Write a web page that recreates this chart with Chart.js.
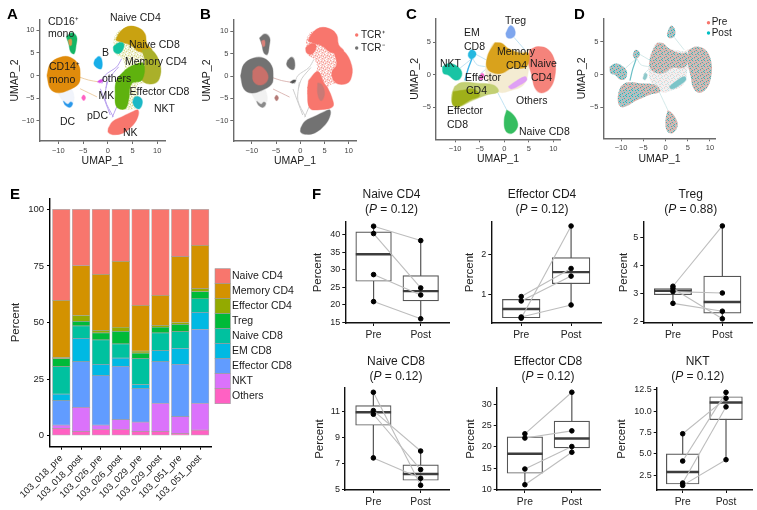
<!DOCTYPE html>
<html>
<head>
<meta charset="utf-8">
<title>UMAP and cell fraction panels</title>
<script src="https://cdn.jsdelivr.net/npm/chart.js@4/dist/chart.umd.js"></script>
<style>
  html, body { margin: 0; padding: 0; background: #fff; }
  #page { position: relative; width: 757px; height: 510px; overflow: hidden; }
  canvas { position: absolute; }
</style>
</head>
<body>
<div id="page"></div>
<script>
// ---- stacked bars (panel E) ----
const samples = ["103_018_pre", "103_018_post", "103_026_pre", "103_026_post", "103_029_pre", "103_029_post", "103_051_pre", "103_051_post"];
const others = [3.2, 1.9, 2.8, 2.8, 1.9, 1.9, 1.0, 2.4];
const nkt = [1.4, 10.6, 1.8, 4.3, 4.1, 12.4, 7.4, 11.9];
const effectorCd8 = [10.9, 20.2, 21.9, 23.5, 14.8, 18.4, 23.1, 32.7];
const emCd8 = [2.8, 10.3, 5.0, 3.6, 1.7, 4.9, 7.1, 7.5];
const naiveCd8 = [12.2, 5.5, 10.8, 6.4, 11.5, 7.8, 7.4, 6.0];
const treg = [3.5, 2.0, 3.1, 5.5, 2.5, 2.5, 3.2, 3.1];
const effectorCd4 = [0.6, 2.7, 1.1, 1.8, 0.8, 0.8, 0.8, 1.4];
const memoryCd4 = [25.2, 21.9, 24.8, 29.1, 20.3, 13.3, 29.1, 19.1];
const naiveCd4 = [40.2, 24.9, 28.7, 23.0, 42.4, 38.0, 20.9, 15.9];
const percentTicks = [0, 25, 50, 75, 100];

// ---- paired box panels (F): pre / post in patient order, box = low, q1, median, q3, high ----
const naiveCd4Pre = [42.4, 40.3, 28.6, 20.9];
const naiveCd4Post = [38.3, 24.8, 22.8, 16.0];
const naiveCd4Box = [[20.9, 26.7, 34.4, 40.8, 42.4], [16.0, 21.1, 23.9, 28.3, 38.3]];
const effCd4Pre = [0.40, 0.43, 0.83, 0.94];
const effCd4Post = [2.70, 0.73, 1.45, 1.64];
const effCd4Box = [[0.40, 0.41, 0.63, 0.87, 0.94], [0.73, 1.26, 1.55, 1.91, 2.70]];
const tregPre = [3.26, 3.07, 3.18, 2.65];
const tregPost = [5.41, 3.02, 2.10, 2.37];
const tregBox = [[2.65, 2.96, 3.10, 3.18, 3.26], [2.10, 2.30, 2.70, 3.62, 5.41]];
const naiveCd8Pre = [12.49, 11.08, 10.80, 7.44];
const naiveCd8Post = [5.33, 7.97, 6.54, 5.87];
const naiveCd8Box = [[7.44, 9.95, 10.95, 11.46, 12.49], [5.33, 5.72, 6.20, 6.90, 7.97]];
const effCd8Pre = [23.1, 22.1, 14.8, 11.1];
const effCd8Post = [32.9, 23.8, 20.1, 18.75];
const effCd8Box = [[11.1, 13.8, 18.4, 22.4, 23.1], [18.75, 19.8, 22.0, 26.1, 32.9]];
const nktPre = [7.36, 4.17, 1.60, 1.33];
const nktPost = [11.49, 12.19, 10.50, 4.33];
const nktBox = [[1.33, 1.49, 2.89, 5.00, 7.36], [4.33, 9.00, 11.00, 11.68, 12.19]];

const tHull = [[4, 10.8], [6.8, 9.5], [7.5, 6.5], [9.5, 3.6], [10.4, 0.6], [9.9, -0.9], [7.5, -1.6], [5.8, -2.4], [6.5, -5.3], [6.7, -6.8], [4, -7.5], [2, -7.2], [1.6, -4.6], [1.6, -1.6], [3.4, 1.3], [3, 3.6], [1.6, 4.7], [1.2, 6.5], [1.6, 9.1]];
const topLobe = [[1.6, 7.8], [2.5, 9.6], [4.2, 10.8], [6.2, 10.5], [7.5, 9.2], [7.9, 7.0], [8.9, 5.6], [6.5, 5.2], [4.5, 6.7], [2.5, 7.4]];
const rightLobe = [[6.9, 5.6], [8.9, 5.6], [10.6, 2.3], [10.4, -0.7], [9.2, -1.8], [7.2, -1.4], [6.5, 0.8], [7.5, 2.6]];
const midBody = [[3.5, 1.2], [5.2, 2.3], [7.2, 2.6], [6.9, -1], [4.8, -1.8], [4.2, -5.4], [3.5, -7.3], [1.8, -6.9], [1.5, -4], [1.8, -1]];
const lowerBody = [[1.7, -1], [3.6, 1], [5, -1.8], [5.6, -2.6], [6.5, -4.8], [6.7, -6.8], [4, -7.5], [2, -7.2], [1.5, -4]];
const lowerPatch = [[5, -5.8], [5.5, -4.7], [6.5, -4.8], [7, -5.8], [6.4, -7.3], [5.5, -6.9]];
const cd8Patch = [[1.1, 6.3], [2.2, 7.2], [3.2, 7], [3, 5.6], [2.2, 4.8], [1.3, 5.2]];
const nkBlob = [[0.1, -11.6], [1, -10.1], [3, -9], [5.1, -7.9], [6.1, -7.6], [6.1, -9], [5.1, -10.9], [3, -12.7], [1, -13], [0.1, -12.5]];
const cd14Blob = [[-12.3, 0], [-11.6, 2.6], [-9.6, 4], [-7.6, 4], [-5.9, 2.3], [-5.6, 0], [-5.9, -1.8], [-7.9, -3.2], [-10, -3.8], [-11.6, -2.9]];
const cd14Core = [[-9.8, 1.2], [-8.5, 2.2], [-7, 1], [-6.7, -0.8], [-8, -2], [-9.6, -1.2]];
const dcTail = [[-10, -4], [-9, -5.8], [-8, -6.9], [-7.1, -6.2], [-6.8, -4.7], [-7.5, -3]];
const dcRim = [[-9, -5.6], [-8.1, -6.3], [-7.5, -5.8], [-7.1, -6.2], [-7.7, -7], [-8.6, -6.5]];
const cd16Blob = [[-8.4, 8.5], [-7.3, 9.4], [-6.3, 8.5], [-6.4, 6.7], [-6.8, 4.8], [-7.5, 5.2], [-7.9, 7]];
const cd16Core = [[-8, 7.8], [-7.4, 8], [-7.3, 6.8], [-7.7, 6.6]];
const bBlob = [[-2.6, 3.5], [-1.8, 4.2], [-1.2, 3.4], [-1.3, 1.5], [-2.2, 1.7], [-2.8, 2.5]];
const othersSpot = [[-2.1, -1.4], [-1.4, -0.9], [-0.9, -1], [-1.5, -1.6]];
const mkSpot = [[-5.3, -4.9], [-4.9, -4.3], [-4.5, -4.9], [-4.9, -5.5]];
const gutSpot = [[3.6, -1.5], [4.5, -2], [5, -4], [4.3, -5.5], [3.6, -4]];
const trailsAB = [
  [[2.8, 3.7], [1.8, 1.9], [-0.5, 0.1], [-1.2, -1.8]],
  [[-0.2, -1.4], [-0.5, -5.4], [1.1, -9.1]],
  [[-1.5, -2.9], [0.5, -8.7]],
  [[1.8, -6.9], [0.9, -9.2]],
  [[2.2, 1.9], [0.3, -0.6], [-0.4, -2.8]]
];
const trailsMyeloid = [
  [[-5.6, -0.4], [-3.9, -1], [-1.9, -1.4]],
  [[-5.6, -2.9], [-2.2, -4.7]]
];

const cNaiveCd4 = [[5.2, 3.8], [6.9, 4.3], [9, 3.8], [10.3, 2], [10.3, -0.3], [9.3, -2.1], [7.6, -2.8], [6.3, -2.1], [5.6, -0.05], [4.9, 2]];
const cMemory = [[-1.9, 4.9], [-0.5, 4.8], [0.8, 4], [3.2, 3.3], [4.9, 3.3], [4.9, 1.7], [3.9, 1], [1.5, 1], [-0.2, 0.3], [-1.9, 0.2], [-3.5, 1], [-3.3, 3]];
const cPale = [[-3.5, 3], [-1.9, 4.9], [0.8, 4], [4, 3.6], [5.2, 3.8], [5, 1], [4, -1.5], [1, -2.5], [-1, -2.7], [-3, -1.5], [-3.8, 0.5]];
const cTreg = [[0.3, 6.3], [1.2, 7.5], [2, 7.1], [2.2, 6.1], [1.5, 5.6], [0.6, 5.7]];
const cEmCd8 = [[-7.3, 3.3], [-6.7, 3.8], [-5.8, 3.4], [-5.9, 2.8], [-6.7, 2.4], [-7.3, 2.8]];
const cNkt = [[-12.6, 1.2], [-11.4, 1.7], [-10.1, 1.5], [-8.7, 0.5], [-9, -0.6], [-10.1, -0.8], [-11.4, -0.05], [-12.4, 0.2]];
const cEffector = [[-10.1, -1.8], [-8.7, -1.2], [-5.6, -1.3], [-2.2, -1.6], [-1.2, -2.6], [-3.6, -3.1], [-6.3, -3.9], [-9.4, -5], [-10.5, -4.6], [-10.7, -3.1]];
const cEffectorDense = [[-10.4, -2.6], [-8.5, -2.4], [-6.3, -2.2], [-5, -3.2], [-7, -3.9], [-9.4, -4.9], [-10.5, -4.5]];
const cNaiveCd8 = [[0.5, -5.4], [1.5, -5.9], [2.5, -6.9], [2.7, -8], [1.5, -9], [0.3, -8.6], [0, -6.9]];
const cOthers = [[0.8, -1.9], [2.2, -1.1], [4.2, -0.3], [4.6, -0.8], [3.2, -1.6], [1.5, -2.2]];
const cPink = [[-5.1, -0.6], [-4.6, 0.2], [-4.1, -0.05], [-4.6, -0.8]];
const trailsCD = [
  [[-6, 3.2], [-3.5, 2.2]],
  [[-6.5, 2.5], [-9, 1]],
  [[-6.4, 2.4], [-5.5, 1.5], [-3.6, 1.2]],
  [[-1.5, -2.5], [0.5, -5.4]],
  [[2, 5.7], [4.2, 3.8]],
  [[-5, 0], [-3.5, 1]]
];
const cBlueStreak = [[-6.6, 2.4], [-7.4, 0.8], [-8, -0.9]];

const umapTickValues = [-10, -5, 0, 5, 10];
const umapTickLabels = ["\u221210", "\u22125", "0", "5", "10"];
const umapCdTickValues = [-5, 0, 5];
const umapCdTickLabels = ["\u22125", "0", "5"];

const HUE = { naiveCd4: "#F8766D", memoryCd4: "#D39200", effectorCd4: "#93AA00", treg: "#00BA38", naiveCd8: "#00C19F", emCd8: "#00B9E3", effectorCd8: "#619CFF", nkt: "#DB72FB", others: "#FF61C3" };
const FONT = "'Liberation Sans', Arial, sans-serif";
Chart.defaults.font.family = FONT;
Chart.defaults.color = "#222";

// small tile of dots so a filled outline reads like a cloud of cells
function speckle(bg, a, b) {
  const c = document.createElement("canvas");
  c.width = 6; c.height = 6;
  const x = c.getContext("2d");
  x.fillStyle = bg; x.fillRect(0, 0, 6, 6);
  x.fillStyle = a;
  [[0, 0], [3, 1], [1, 3], [4, 4], [5, 2]].forEach(p => x.fillRect(p[0], p[1], 1, 1));
  x.fillStyle = b;
  [[2, 0], [5, 0], [0, 2], [2, 4], [4, 3], [1, 5]].forEach(p => x.fillRect(p[0], p[1], 1, 1));
  return x.createPattern(c, "repeat");
}

// solid blobs get a faint halo line so the edge looks fuzzy like the dots
const blob = (pts, color) => ({ type: "scatter", showLine: true, data: pts.concat([pts[0]]), tension: 0.4, blobFill: color, borderColor: typeof color === "string" ? color + "66" : "rgba(0,0,0,0)", borderWidth: typeof color === "string" ? 1.2 : 0, pointRadius: 0, clip: false });
const trail = (pts, color, w) => ({ type: "scatter", showLine: true, data: pts, tension: 0.3, fill: false, borderColor: color, borderWidth: w || 0.8, pointRadius: 0, clip: false });

// fills a closed outline along the line element the library already laid out
const blobFiller = {
  id: "blobFiller",
  beforeDatasetDraw(chart, args) {
    const color = chart.data.datasets[args.index].blobFill;
    if (!color) return;
    const ctx = chart.ctx;
    ctx.save();
    ctx.fillStyle = color;
    ctx.beginPath();
    args.meta.dataset.path(ctx);
    ctx.closePath();
    ctx.fill();
    ctx.restore();
  }
};

// text layer: positions are page pixels, parts may be italic
const notes = {
  id: "notes",
  afterDraw(chart, args, opts) {
    const ctx = chart.ctx, dx = chart.canvas.offsetLeft, dy = chart.canvas.offsetTop;
    ctx.save();
    ctx.textBaseline = "middle";
    (opts.squares || []).forEach(s => {
      ctx.fillStyle = s.color;
      ctx.fillRect(s.x - dx, s.y - dy, s.w, s.h);
      ctx.strokeStyle = "#9a9a9a"; ctx.lineWidth = 0.6;
      ctx.strokeRect(s.x - dx, s.y - dy, s.w, s.h);
    });
    (opts.dots || []).forEach(d => {
      ctx.fillStyle = d.color;
      ctx.beginPath(); ctx.arc(d.x - dx, d.y - dy, 1.7, 0, Math.PI * 2); ctx.fill();
    });
    (opts.items || []).forEach(n => {
      const parts = Array.isArray(n.t) ? n.t : [{ s: n.t }];
      const weight = n.bold ? "bold " : "";
      const font = p => (p.i ? "italic " : "") + weight + (n.size || 10.5) + "px " + FONT;
      let w = 0;
      parts.forEach(p => { ctx.font = font(p); w += ctx.measureText(p.s).width; });
      let x = n.x - dx - (n.center ? w / 2 : 0);
      ctx.fillStyle = n.color || "#1a1a1a";
      ctx.textAlign = "left";
      parts.forEach(p => {
        ctx.font = font(p);
        ctx.fillText(p.s, x, n.y - dy);
        x += ctx.measureText(p.s).width;
      });
    });
    ctx.restore();
  }
};
const soften = {
  id: "soften",
  beforeDatasetsDraw(chart, args, opts) { if (opts.blur) chart.ctx.filter = "blur(" + opts.blur + "px)"; },
  afterDatasetsDraw(chart, args, opts) { if (opts.blur) chart.ctx.filter = "none"; }
};

function axis(o) {
  return {
    type: "linear", min: o.min, max: o.max, stacked: !!o.stacked, offset: false,
    afterBuildTicks: s => { s.ticks = o.values.map(v => ({ value: v })); },
    afterFit: s => { if (o.fit) o.fit(s); },
    grid: { offset: false, drawOnChartArea: false, drawTicks: true, tickLength: 3, color: o.color, lineWidth: 1 },
    border: { color: o.color, width: o.width || 1.4 },
    title: o.title ? { display: true, text: o.title, font: { size: o.titleSize || 10.5 }, color: "#222", padding: o.titlePad || 0 } : { display: false },
    ticks: { autoSkip: false, font: { size: o.size }, color: o.tickColor || "#222", padding: o.padding === undefined ? 2 : o.padding, maxRotation: o.rot || 0, minRotation: o.rot || 0, callback: (v, i) => o.labels[i] }
  };
}

// every panel gets its own canvas; plot is the axis box in page pixels
function panel(p) {
  const c = document.createElement("canvas");
  const box = { left: Math.floor(p.left), top: p.top, right: p.right, bottom: p.bottom };
  c.width = box.right - box.left; c.height = box.bottom - box.top;
  c.style.left = box.left + "px"; c.style.top = box.top + "px";
  document.getElementById("page").appendChild(c);
  p.x.fit = s => { s.height = box.bottom - p.plot.b; };
  p.y.fit = s => { s.width = p.plot.l - box.left; };
  if (p.yTitleAt) p.y.titlePad = p.yTitleAt - box.left - (p.y.titleSize || 10.5) * 0.6;
  return new Chart(c, {
    type: p.type || "scatter",
    data: { datasets: p.datasets },
    plugins: [blobFiller, notes, soften],
    options: {
      responsive: false, animation: false, events: [],
      layout: { autoPadding: false, padding: { top: p.plot.t - box.top, right: box.right - p.plot.r, left: 0, bottom: 0 } },
      scales: { x: axis(p.x), y: axis(p.y) },
      plugins: { legend: { display: false }, tooltip: { enabled: false }, notes: { items: p.items || [], squares: p.squares || [], dots: p.dots || [] }, soften: { blur: p.blur || 0 } }
    }
  });
}

function umap(p) {
  p.x = Object.assign({ values: umapTickValues, labels: umapTickLabels, size: 7.5, color: "#6b6b6b", tickColor: "#444", title: "UMAP_1" }, p.x);
  p.y = Object.assign({ size: 7.5, color: "#6b6b6b", tickColor: "#444", title: "UMAP_2" }, p.y);
  p.blur = 0.5;
  p.datasets = p.layers.reverse();
  panel(p);
}

// ---- panel A ----
const paleA = speckle("#eef0cf", "#d8d48a", "#ffffff");
umap({
  left: 5, top: 0, right: 200, bottom: 167, yTitleAt: 15,
  plot: { l: 39.5, t: 20, r: 165.7, b: 141 },
  x: { min: -13.8, max: 11.7 },
  y: { min: -14.4, max: 12.2, values: umapTickValues, labels: umapTickLabels },
  layers: [
    ...trailsAB.map(t => trail(t, "#b9a2ee", 1)),
    ...trailsMyeloid.map(t => trail(t, "#e7c28e", 0.8)),
    blob(tHull, paleA),
    blob(topLobe, "#c9a211"),
    blob(rightLobe, "#aab02a"),
    blob(midBody, "#5fb20e"),
    blob(lowerPatch, "#1cb8c6"),
    blob(cd8Patch, "#12c2a0"),
    blob(nkBlob, HUE.naiveCd4),
    blob(dcTail, "#f1f4fb"),
    blob(dcRim, "#2a98ea"),
    blob(cd14Blob, "#E08B0B"),
    blob(cd16Blob, "#14b565"),
    blob(cd16Core, "#d89a4a"),
    blob(bBlob, "#18aee8"),
    blob(othersSpot, "#d84be8"),
    blob(mkSpot, "#ff61c3")
  ],
  items: [
    { t: "A", x: 7, y: 15, size: 15, bold: true, color: "#000" },
    { t: "CD16\u207A", x: 48, y: 22 }, { t: "mono", x: 48, y: 34.5 },
    { t: "Naive CD4", x: 110, y: 18 }, { t: "Naive CD8", x: 129, y: 45 },
    { t: "B", x: 102, y: 53 }, { t: "Memory CD4", x: 125, y: 62 },
    { t: "CD14\u207A", x: 49, y: 67.5 }, { t: "mono", x: 49, y: 80 },
    { t: "others", x: 102, y: 79 }, { t: "MK", x: 98.5, y: 96 },
    { t: "Effector CD8", x: 129.5, y: 92.5 }, { t: "NKT", x: 154, y: 109 },
    { t: "pDC", x: 87, y: 116.5 }, { t: "DC", x: 60, y: 122 }, { t: "NK", x: 123, y: 133.5 }
  ]
});

// ---- panel B ----
const RED = "#F8766D", GREY = "#727272";
const paleB = speckle("#fbd3cf", "#f59e98", "#ffffff");
umap({
  left: 198, top: 0, right: 392, bottom: 167, yTitleAt: 206.7,
  plot: { l: 233.3, t: 20, r: 356.7, b: 141 },
  x: { min: -13.8, max: 11.63 },
  y: { min: -14.5, max: 12.5, values: umapTickValues, labels: umapTickLabels },
  layers: [
    ...trailsAB.map(t => trail(t, "#cfcfcf", 1)),
    ...trailsMyeloid.map(t => trail(t, "#d3a7a3", 0.8)),
    blob(tHull, paleB),
    blob(topLobe, RED),
    blob(cd8Patch, RED),
    blob(rightLobe, RED),
    blob(lowerBody, RED),
    blob(gutSpot, "#c97a76"),
    blob(nkBlob, GREY),
    blob(dcTail, "#f1f1f1"),
    blob(dcRim, "#8a8a8a"),
    blob(cd14Blob, GREY),
    blob(cd14Core, "#c9706a"),
    blob(cd16Blob, GREY),
    blob(cd16Core, "#d9817a"),
    blob(bBlob, GREY),
    blob(othersSpot, "#555555"),
    blob(mkSpot, "#b47a76")
  ],
  dots: [{ x: 356.7, y: 35, color: RED }, { x: 356.7, y: 48, color: GREY }],
  items: [
    { t: "B", x: 200, y: 15, size: 15, bold: true, color: "#000" },
    { t: "TCR\u207A", x: 361, y: 35, size: 10 }, { t: "TCR\u207B", x: 361, y: 48, size: 10 }
  ]
});

// ---- panel C ----
umap({
  left: 402, top: 0, right: 575, bottom: 165, yTitleAt: 415,
  plot: { l: 436, t: 18.3, r: 560, b: 139.3 },
  x: { min: -13.9, max: 11.36 },
  y: { min: -9.9, max: 8.63, values: umapCdTickValues, labels: umapCdTickLabels },
  layers: [
    ...trailsCD.map(t => trail(t, "#b8dff0", 0.9)),
    trail(cBlueStreak, "#3fb5e8", 1.4),
    blob(cPale, "#f4ecd2"),
    blob(cEffector, "#c2cf73"),
    blob(cEffectorDense, "#9fb019"),
    blob(cNaiveCd4, "#F5837B"),
    blob(cMemory, "#D9A21C"),
    blob(cTreg, "#7ea6ee"),
    blob(cEmCd8, "#25b8e0"),
    blob(cNkt, "#18c4a4"),
    blob(cNaiveCd8, "#35bd60"),
    blob(cOthers, "#DFA0F5"),
    blob(cPink, "#f568cb")
  ],
  items: [
    { t: "C", x: 406, y: 15, size: 15, bold: true, color: "#000" },
    { t: "Treg", x: 505, y: 21 }, { t: "EM", x: 464, y: 33.5 }, { t: "CD8", x: 464, y: 47 },
    { t: "Memory", x: 497, y: 52 }, { t: "CD4", x: 506, y: 66 },
    { t: "NKT", x: 440, y: 64.5 }, { t: "Naive", x: 530, y: 64.5 }, { t: "CD4", x: 531, y: 78 },
    { t: "Effector", x: 465, y: 78 }, { t: "CD4", x: 466, y: 91.5 },
    { t: "Others", x: 516, y: 101 }, { t: "Effector", x: 447, y: 111.5 }, { t: "CD8", x: 447, y: 125 },
    { t: "Naive CD8", x: 519, y: 132.5 }
  ]
});

// ---- panel D ----
const mixD = speckle("#cbbfbb", "#e8958f", "#4dadb0");
const tealD = speckle("#a8c6c8", "#e39f99", "#2fb3b9");
const paleD = speckle("#f3f0f0", "#f3d3d0", "#c3e3e5");
umap({
  left: 570, top: 0, right: 757, bottom: 165, yTitleAt: 581.7,
  plot: { l: 603.3, t: 18.3, r: 715.7, b: 138.3 },
  x: { min: -14, max: 11.3 },
  y: { min: -9.75, max: 8.63, values: umapCdTickValues, labels: umapCdTickLabels },
  layers: [
    ...trailsCD.map(t => trail(t, "#cfe6e6", 0.9)),
    trail(cBlueStreak, "#6bbfc6", 1.2),
    blob(cPale, paleD),
    blob(cEffector, mixD),
    blob(cEffectorDense, tealD),
    blob(cNaiveCd4, mixD),
    blob(cMemory, mixD),
    blob(cTreg, tealD),
    blob(cEmCd8, tealD),
    blob(cNkt, tealD),
    blob(cNaiveCd8, mixD),
    blob(cOthers, "#7cc4c8"),
    blob(cPink, "#8fc9cb")
  ],
  dots: [{ x: 708.5, y: 22.7, color: "#F8766D" }, { x: 708.5, y: 33, color: "#00BFC4" }],
  items: [
    { t: "D", x: 574, y: 15, size: 15, bold: true, color: "#000" },
    { t: "Pre", x: 711.7, y: 22.7, size: 10 }, { t: "Post", x: 711.7, y: 33, size: 10 }
  ]
});

// ---- panel E ----
const stackNames = ["Others", "NKT", "Effector CD8", "EM CD8", "Naive CD8", "Treg", "Effector CD4", "Memory CD4", "Naive CD4"];
const stackValues = [others, nkt, effectorCd8, emCd8, naiveCd8, treg, effectorCd4, memoryCd4, naiveCd4];
const stackColors = [HUE.others, HUE.nkt, HUE.effectorCd8, HUE.emCd8, HUE.naiveCd8, HUE.treg, HUE.effectorCd4, HUE.memoryCd4, HUE.naiveCd4];
panel({
  type: "bar",
  left: 5, top: 188, right: 300, bottom: 510, yTitleAt: 16,
  plot: { l: 50, t: 198.3, r: 211, b: 446.7 },
  x: { min: -0.57, max: 7.55, stacked: true, values: samples.map((s, i) => i), labels: samples, size: 9.5, color: "#000", rot: 45, padding: 3 },
  y: { min: -4.9, max: 104.9, stacked: true, values: percentTicks, labels: percentTicks.map(String), size: 9.5, color: "#000", title: "Percent", titleSize: 11.5, padding: 3 },
  datasets: stackNames.map((name, k) => ({
    label: name,
    data: stackValues[k].map((v, i) => ({ x: i, y: v })),
    backgroundColor: stackColors[k],
    borderColor: "rgba(120,120,120,0.55)",
    borderWidth: 0.7,
    borderSkipped: false,
    barThickness: 17.7
  })),
  squares: stackNames.slice().reverse().map((name, i) => ({ x: 215, y: 268.7 + i * 15, w: 15.3, h: 15, color: stackColors[8 - i] })),
  items: stackNames.slice().reverse().map((name, i) => ({ t: name, x: 232, y: 276.4 + i * 15 })).concat([{ t: "E", x: 10, y: 195, size: 15, bold: true, color: "#000" }])
});

// ---- panel F ----
function boxPanel(p) {
  const pitch = p.plot.r - p.plot.l;
  const slot = pitch / 2.2, bw = slot * 0.75;
  const xs = [0, 1];
  const ds = [];
  ds.push({ type: "scatter", data: xs.flatMap(x => (x ? p.post : p.pre).map(v => ({ x, y: v }))), pointRadius: 2.3, backgroundColor: "#000", borderColor: "#000", clip: false });
  p.pre.forEach((v, i) => ds.push({ type: "scatter", showLine: true, data: [{ x: 0, y: v }, { x: 1, y: p.post[i] }], borderColor: "#bdbdbd", borderWidth: 1.1, pointRadius: 0, clip: false }));
  ds.push({ type: "scatter", data: xs.map(x => ({ x, y: p.box[x][2] })), pointStyle: "line", pointRadius: bw / 2, pointBorderWidth: 2.4, pointBorderColor: "#3d3d3d", clip: false });
  ds.push({ type: "bar", grouped: false, data: xs.map(x => ({ x, y: [p.box[x][1], p.box[x][3]] })), backgroundColor: "#fff", borderColor: "#555", borderWidth: 1.2, borderSkipped: false, barThickness: bw });
  xs.forEach(x => ds.push({ type: "scatter", showLine: true, data: [{ x, y: p.box[x][0] }, { x, y: p.box[x][4] }], borderColor: "#555", borderWidth: 1.2, pointRadius: 0, clip: false }));
  panel({
    type: "bar",
    left: p.yTitle - 7, top: p.plot.t - 40, right: p.plot.r + 4, bottom: p.plot.b + 21,
    plot: p.plot,
    x: { min: -0.6, max: 1.6, values: xs, labels: ["Pre", "Post"], size: 10.3, color: "#111", padding: 3 },
    y: { min: p.min, max: p.max, values: p.tickLabels.map(Number), labels: p.tickLabels, size: 9, color: "#111", title: "Percent", titleSize: 11.5 },
    datasets: ds,
    items: [
      { t: p.name, x: p.cx, y: p.titleY, size: 12, center: true },
      { t: [{ s: "(" }, { s: "P", i: true }, { s: " = " + p.pval + ")" }], x: p.cx, y: p.titleY + 15, size: 12, center: true }
    ].concat(p.extra || [])
  });
}

boxPanel({ name: "Naive CD4", pval: "0.12", cx: 391.5, titleY: 195, yTitle: 318, plot: { l: 345.3, t: 222.3, r: 449.7, b: 324 }, min: 14.8, max: 43.6, tickLabels: ["15", "20", "25", "30", "35", "40"], pre: naiveCd4Pre, post: naiveCd4Post, box: naiveCd4Box, extra: [{ t: "F", x: 312, y: 195, size: 15, bold: true, color: "#000" }] });
boxPanel({ name: "Effector CD4", pval: "0.12", cx: 542, titleY: 195, yTitle: 470.7, plot: { l: 491.3, t: 222.3, r: 601.7, b: 324 }, min: 0.28, max: 2.8, tickLabels: ["1", "2"], pre: effCd4Pre, post: effCd4Post, box: effCd4Box });
boxPanel({ name: "Treg", pval: "0.88", cx: 690.7, titleY: 195, yTitle: 624, plot: { l: 643.3, t: 222.3, r: 752.7, b: 324 }, min: 1.95, max: 5.55, tickLabels: ["2", "3", "4", "5"], pre: tregPre, post: tregPost, box: tregBox });
boxPanel({ name: "Naive CD8", pval: "0.12", cx: 396, titleY: 362, yTitle: 320.7, plot: { l: 345, t: 388.3, r: 449, b: 490.3 }, min: 4.97, max: 12.82, tickLabels: ["5", "7", "9", "11"], pre: naiveCd8Pre, post: naiveCd8Post, box: naiveCd8Box });
boxPanel({ name: "Effector CD8", pval: "0.12", cx: 548, titleY: 362, yTitle: 471, plot: { l: 496.7, t: 388.3, r: 600.7, b: 490.3 }, min: 9.85, max: 33.9, tickLabels: ["10", "15", "20", "25", "30"], pre: effCd8Pre, post: effCd8Post, box: effCd8Box });
boxPanel({ name: "NKT", pval: "0.12", cx: 697.7, titleY: 362, yTitle: 622, plot: { l: 656.7, t: 388.3, r: 752.7, b: 490.3 }, min: 0.79, max: 12.7, tickLabels: ["2.5", "5.0", "7.5", "10.0", "12.5"], pre: nktPre, post: nktPost, box: nktBox });
</script>
</body>
</html>
